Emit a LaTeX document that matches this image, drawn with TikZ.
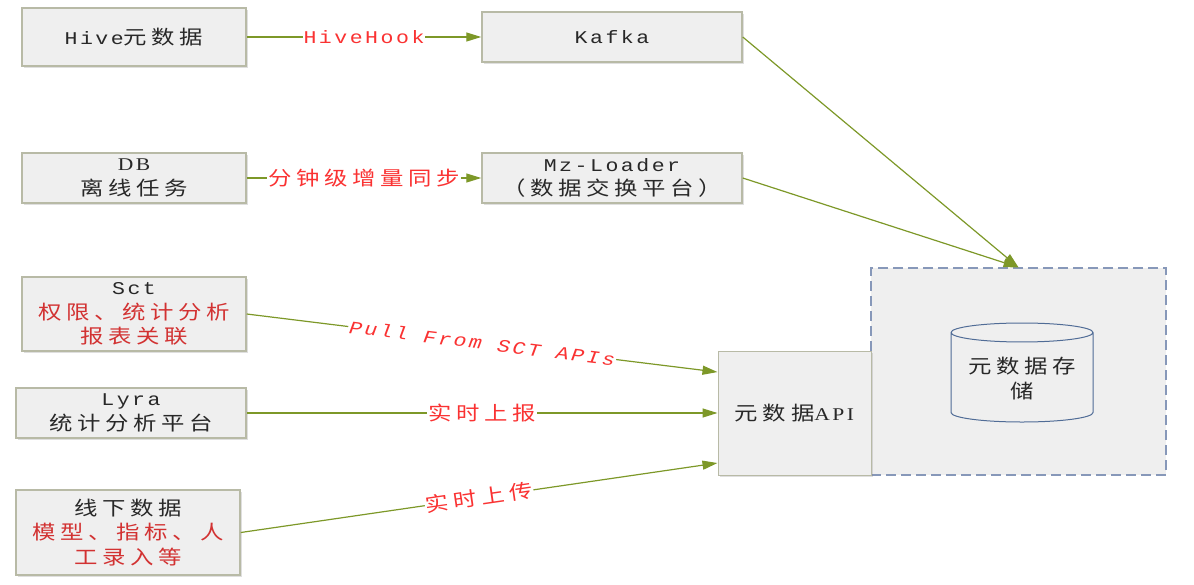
\documentclass[tikz,border=0pt]{standalone}
\usepackage{fontspec}
\setmainfont[FakeStretch=1.2,LetterSpace=24]{Noto Sans CJK SC}
\newfontfamily\latmono[Scale=0.92,FakeStretch=1.2,LetterSpace=14]{Liberation Mono}
\newfontfamily\latserif[Scale=0.92,FakeStretch=1.2,LetterSpace=14]{Liberation Serif}
\usetikzlibrary{arrows.meta,shapes.geometric,shadows}
\definecolor{boxfill}{RGB}{239,239,239}
\definecolor{boxline}{RGB}{184,186,166}
\definecolor{linkolive}{RGB}{125,152,40}
\definecolor{labelred}{RGB}{250,50,50}
\definecolor{boxred}{RGB}{210,50,50}
\definecolor{boxtext}{RGB}{40,40,40}
\definecolor{storeline}{RGB}{135,152,185}
\definecolor{cylline}{RGB}{80,108,150}
\tikzset{%
  every node/.style={font=\fontsize{19.5}{24.5}\selectfont},
  srcbox/.style={
    rectangle,
    draw=boxline,
    line width=1.5pt,
    fill=boxfill,
    align=center,
    text=boxtext,
    inner sep=0pt,
    drop shadow={shadow xshift=1.5pt, shadow yshift=-1.5pt, opacity=0.25, fill=gray}
  },
  link/.style={draw=linkolive, line width=1.2pt, -{Triangle[length=15pt,width=9pt]}},
  linklabel/.style={fill=white, text=labelred, inner sep=1pt, midway},
}

\begin{document}
\begin{tikzpicture}[x=1pt, y=-1pt]

\useasboundingbox (0,0) rectangle (1194,584);

% sources
\node [srcbox, minimum width=224pt, minimum height=58pt] (hive) at (134,37) {{\latmono Hive}元数据};
\node [srcbox, minimum width=260pt, minimum height=50pt] (kafka) at (612,37) {\latmono Kafka};
\node [srcbox, minimum width=224pt, minimum height=50pt] (db) at (134,178) {{\latserif DB}\\离线任务};
\node [srcbox, minimum width=260pt, minimum height=50pt] (mzloader) at (612,178) {{\latmono Mz-Loader}\\（数据交换平台）};
\node [srcbox, minimum width=224pt, minimum height=74pt] (sct) at (134,314)
  {{\latmono Sct}\\\textcolor{boxred}{权限、统计分析}\\\textcolor{boxred}{报表关联}};
\node [srcbox, minimum width=230pt, minimum height=50pt] (lyra) at (131,413) {{\latmono Lyra}\\统计分析平台};
\node [srcbox, minimum width=224pt, minimum height=85pt] (offline) at (128,532.5)
  {线下数据\\\textcolor{boxred}{模型、指标、人}\\\textcolor{boxred}{工录入等}};

% storage
\node [draw=storeline, line width=1.3pt, dash pattern=on 10pt off 5pt, fill=boxfill,
  minimum width=295pt, minimum height=207pt, inner sep=0pt] (store) at (1018.5,371.5) {};
\node [srcbox, line width=1pt, minimum width=153pt, minimum height=124pt] (api) at (794.5,413) {元数据{\latserif API}};
\node [cylinder, shape border rotate=90, aspect=0.17, draw=cylline, line width=1pt, fill=boxfill,
  text=boxtext, align=center, minimum width=142pt, minimum height=99pt, inner sep=2pt,
  anchor=shape center] (cyl) at (1022,372.5) {元数据存\\储};

%%%%%%%%%%%%%%%%%%%%%%%%%%%%%%%%%%%%%%%%%%%%%%%%%%%%%%%%%%%%%%%%%%%%%%%%%%%%%
% connections

\draw [link] (hive) -- node [linklabel] {\latmono HiveHook} (kafka);
\draw [link] (db) -- node [linklabel] {分钟级增量同步} (mzloader);

\foreach \s in {kafka,mzloader}
  \draw [link] (\s.east) -- (store.north);

\draw [link] (sct.east) -- node [linklabel, sloped] {\latmono\itshape Pull From SCT APIs} (api.152);
\draw [link] (lyra.east) -- node [linklabel] {实时上报} (api.west);
\draw [link] (offline.east) -- node [linklabel, sloped] {实时上传} (api.213);

\end{tikzpicture}
\end{document}
